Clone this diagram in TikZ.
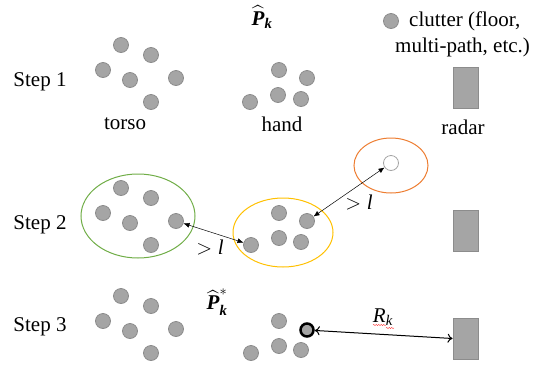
\documentclass[tikz,border=0pt]{standalone}
\usepackage{amsmath}
\usepackage{fontspec}
\setmainfont{Liberation Serif}
\usetikzlibrary{arrows.meta,decorations.pathmorphing}
\definecolor{dotfill}{HTML}{A5A5A5}
\definecolor{dotline}{HTML}{8C8C8C}
\definecolor{grn}{HTML}{70AD47}
\definecolor{ylw}{HTML}{FFC000}
\definecolor{org}{HTML}{ED7D31}
\begin{document}
\begin{tikzpicture}[x=1pt,y=-1pt,
  pt/.style={circle,fill=dotfill,draw=dotline,line width=0.8pt,minimum size=15pt,inner sep=0pt},
  lbl/.style={font=\fontsize{21}{24}\selectfont,inner sep=0pt},
  radarbox/.style={rectangle,fill=dotfill,draw=dotline,line width=0.8pt,minimum width=25pt,minimum height=41pt,inner sep=0pt},
  gap/.style={<->,>={Latex[length=6pt,width=5pt]},line width=0.5pt,black},
  rng/.style={<->,>={To[length=5pt,width=9pt]},line width=1pt,black}]
\useasboundingbox (0,0) rectangle (539,365);
% labels
\node[lbl] (s1) at (40,82) {Step 1};
\node[lbl] (s2) at (40,225) {Step 2};
\node[lbl] (s3) at (40,327) {Step 3};
\node[lbl] (torso) at (125,124) {torso};
\node[lbl] (hand) at (282,124) {hand};
\node[lbl] (radar) at (463,127) {radar};
\node[lbl] (pk) at (262,17) {$\widehat{\textbf{\textit{P}}}_{\textbf{\textit{k}}}$};
\node[lbl] (pks) at (217,302) {$\widehat{\textbf{\textit{P}}}^{*}_{\textbf{\textit{k}}}$};
% legend
\node[pt] (leg) at (391,21) {};
\node[lbl,anchor=west] (leg1) at (409,21) {clutter (floor,};
\node[lbl,anchor=west] (leg2) at (395,47) {multi-path, etc.)};
% step 1
\node[pt] (a1) at (121,45) {};
\node[pt] (a2) at (151,55) {};
\node[pt] (a3) at (103,70) {};
\node[pt] (a4) at (130,80) {};
\node[pt] (a5) at (176,78) {};
\node[pt] (a6) at (151,102) {};
\node[pt] (b1) at (250,102) {};
\node[pt] (b2) at (279,70) {};
\node[pt] (b3) at (307,78) {};
\node[pt] (b4) at (278,95) {};
\node[pt] (b5) at (301,99) {};
\node[radarbox] (r1) at (465.5,87.5) {};
% step 2
\draw[grn,line width=1pt] (138,216) ellipse [x radius=57, y radius=42];
\draw[ylw,line width=1pt] (283,232.5) ellipse [x radius=50, y radius=34.5];
\draw[org,line width=1pt] (391,165.5) ellipse [x radius=37, y radius=27.5];
\node[pt] (c1) at (121,188) {};
\node[pt] (c2) at (151,198) {};
\node[pt] (c3) at (103,213) {};
\node[pt] (c4) at (130,223) {};
\node[pt] (c5) at (176,221) {};
\node[pt] (c6) at (151,245) {};
\node[pt] (d1) at (251,245) {};
\node[pt] (d2) at (279,213) {};
\node[pt] (d3) at (307,221) {};
\node[pt] (d4) at (279,238) {};
\node[pt] (d5) at (301,242) {};
\node[pt,fill=white,draw=dotfill] (w) at (391,163) {};
\node[radarbox] (r2) at (465.5,230.5) {};
\draw[gap] (c5) -- (d1);
\draw[gap] (d3) -- (w);
\node[lbl] (l1) at (210,247) {$>\textit{l}$};
\node[lbl] (l2) at (359,202) {$>\textit{l}$};
% step 3
\node[pt] (e1) at (121,296) {};
\node[pt] (e2) at (151,306) {};
\node[pt] (e3) at (103,321) {};
\node[pt] (e4) at (130,331) {};
\node[pt] (e5) at (176,329) {};
\node[pt] (e6) at (151,353) {};
\node[pt] (f1) at (251,353) {};
\node[pt] (f2) at (279,321) {};
\node[pt,draw=black,line width=2.5pt,minimum size=13pt] (f3) at (307,330) {};
\node[pt] (f4) at (279,346) {};
\node[pt] (f5) at (301,350) {};
\node[radarbox] (r3) at (465.5,338.5) {};
\draw[rng] (f3) -- (r3.west);
\node[lbl] (rk) at (383,317) {\textit{R}\textsubscript{\textit{k}}};
\draw[red!80,line width=0.4pt,decorate,decoration={snake,amplitude=0.6pt,segment length=2.5pt}] (373,325) -- (386,325);
\draw[red!80,line width=0.4pt,decorate,decoration={snake,amplitude=0.6pt,segment length=2.5pt}] (386,328) -- (394,328);
\end{tikzpicture}
\end{document}
